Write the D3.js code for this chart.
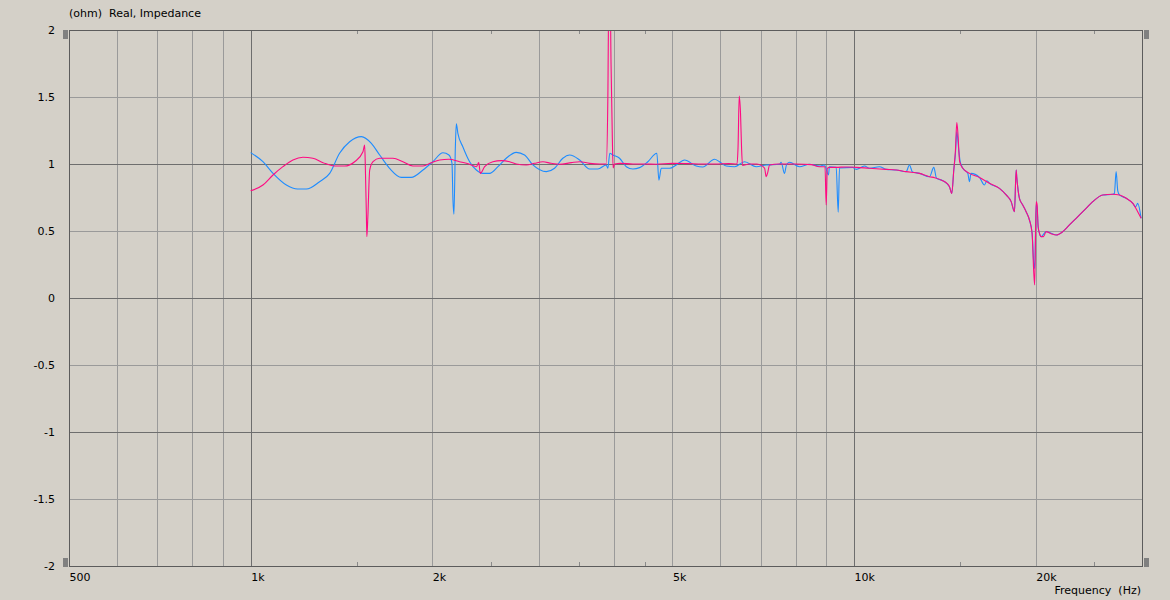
<!DOCTYPE html>
<html>
<head>
<meta charset="utf-8">
<script src="https://cdn.jsdelivr.net/npm/d3@7"></script>
<style>
  html, body { margin: 0; padding: 0; background: #D4D0C8; }
  svg { display: block; }
  text { font-family: "DejaVu Sans", sans-serif; font-size: 11px; fill: #000; }
</style>
</head>
<body>
<svg id="chart" width="1170" height="600"></svg>
<script>
// ---- data ----
const xTickValues = [500, 1000, 2000, 5000, 10000, 20000];
const xTickLabels = ["500", "1k", "2k", "5k", "10k", "20k"];
const xGridMinor = [600, 700, 800, 900, 2000, 3000, 4000, 5000, 6000, 7000, 8000, 9000, 20000];
const xGridMajor = [1000, 10000];
const xSmallTicks = [1500, 2500, 3500, 4500, 15000, 25000];
const yTickValues = [2, 1.5, 1, 0.5, 0, -0.5, -1, -1.5, -2];
const yTickLabels = ["2", "1.5", "1", "0.5", "0", "-0.5", "-1", "-1.5", "-2"];
const yGridMajor = [1, 0, -1];
const yGridMinor = [1.5, 0.5, -0.5, -1.5];

const blueFreq = [1000,1048,1089,1146,1196,1237,1301,1352,1404,1459,1526,1585,1636,1699,1777,1846,1930,2004,2083,2131,2156,2164,2172,2184,2192,2205,2247,2306,2366,2426,2489,2569,2652,2755,2844,2936,3090,3189,3291,3378,3509,3645,3762,3884,3908,3937,3982,4086,4193,4300,4411,4552,4711,4748,4791,4946,5074,5236,5474,5614,5872,5984,6139,6339,6584,6884,7152,7523,7571,7668,7727,7816,8119,8434,8762,8930,9069,9103,9339,9412,9459,9950,10080,10404,10604,11017,11304,11742,12198,12353,12496,12834,13333,13556,13693,14028,14391,14518,14629,14723,14798,14912,14991,15141,15433,15532,15622,16135,16444,16600,16761,17413,17865,18210,18440,18561,18604,18793,19033,19280,19525,19724,19847,19921,20031,20100,20184,20287,20417,20811,21615,22170,22742,23334,24238,24857,25823,26826,27000,27180,27350,27530,28246,28970,29272,29512,29900];
const blueVal = [1.085,1.017,0.93,0.843,0.813,0.813,0.868,0.93,1.08,1.166,1.204,1.154,1.067,0.968,0.90,0.90,0.955,1.017,1.084,1.067,1.005,0.731,0.625,1.129,1.30,1.229,1.129,1.017,0.955,0.93,0.93,0.98,1.043,1.087,1.067,0.993,0.943,0.968,1.043,1.067,1.03,0.963,0.963,0.993,0.968,1.08,1.067,1.043,0.98,0.963,0.973,1.017,1.08,0.88,0.968,0.968,0.993,1.03,0.985,0.978,1.035,1.017,0.985,0.98,1.017,0.98,0.993,0.998,1.013,0.93,0.995,1.013,0.98,0.998,0.985,0.993,0.918,0.98,0.975,0.64,0.97,0.975,0.96,0.985,0.968,0.98,0.96,0.955,0.943,0.993,0.94,0.93,0.905,0.975,0.895,0.875,0.83,0.78,0.955,1.08,1.24,1.10,1.017,0.968,0.93,0.868,0.93,0.90,0.843,0.875,0.856,0.818,0.769,0.719,0.644,0.955,0.90,0.744,0.694,0.644,0.582,0.483,0.26,0.22,0.70,0.68,0.532,0.483,0.458,0.495,0.47,0.495,0.545,0.595,0.669,0.719,0.769,0.774,0.78,0.943,0.80,0.769,0.744,0.706,0.68,0.706,0.595];

const pinkFreq = [1000,1048,1089,1131,1175,1221,1268,1318,1378,1431,1487,1535,1545,1549,1555,1558,1564,1575,1595,1636,1721,1788,1857,1930,1992,2057,2131,2219,2306,2366,2388,2402,2442,2520,2602,2686,2755,2862,2954,3050,3148,3250,3400,3509,3645,3786,3859,3884,3908,3923,3941,3956,3974,3987,4010,4100,4300,4500,4700,5000,5300,5600,5900,6200,6397,6423,6451,6483,6508,6533,6700,6900,7105,7152,7195,7244,7500,8000,8500,8762,8950,8990,9030,9103,9339,9700,10080,10604,11304,11742,12198,12834,13333,13600,14028,14250,14391,14518,14629,14723,14798,14860,14960,15141,15532,16135,16761,17413,17865,18210,18440,18561,18604,18793,19033,19280,19525,19724,19847,19921,20031,20100,20184,20287,20417,20600,20811,21200,21615,22170,22742,23334,24238,24857,25823,26826,27530,28246,28970,29512,29900];
const pinkVal = [0.80,0.843,0.918,0.98,1.03,1.05,1.043,1.01,0.985,0.985,1.017,1.092,1.142,0.98,0.632,0.458,0.607,0.955,1.017,1.043,1.043,1.017,0.985,0.985,1.01,1.03,1.035,1.017,0.998,0.98,1.01,0.93,0.98,1.017,1.025,1.017,1.0,0.993,1.005,1.017,1.005,0.998,1.01,1.017,1.005,1.0,1.0,1.0,1.5,2.3,2.3,1.74,1.23,0.97,1.0,1.005,1.0,1.0,0.998,1.005,1.003,1.0,1.0,1.003,1.0,1.13,1.507,1.38,1.13,0.99,1.0,1.0,0.97,0.905,0.94,0.993,1.0,1.0,0.995,0.98,0.98,0.694,0.968,0.975,0.975,0.978,0.975,0.968,0.96,0.955,0.943,0.93,0.905,0.898,0.875,0.856,0.83,0.78,0.955,1.104,1.31,1.23,1.017,0.968,0.93,0.90,0.856,0.818,0.769,0.719,0.644,0.955,0.90,0.744,0.694,0.644,0.582,0.483,0.196,0.097,0.719,0.70,0.532,0.483,0.458,0.458,0.495,0.48,0.47,0.495,0.545,0.595,0.669,0.719,0.769,0.774,0.769,0.744,0.706,0.644,0.595];

// ---- layout ----
const L = 69, R = 1142, T = 30, B = 566;
const svg = d3.select("#chart");
const x = d3.scaleLog().domain([500, 30000]).range([L, R]);
const y = d3.scaleLinear().domain([-2, 2]).range([B, T]);
const px = v => Math.round(x(v)) + 0.5;
const py = v => Math.round(y(v)) + 0.5;

svg.append("rect").attr("width", 1170).attr("height", 600).attr("fill", "#D4D0C8");

const grid = svg.append("g").attr("shape-rendering", "crispEdges");
grid.selectAll("line.vmin").data(xGridMinor).join("line")
  .attr("x1", d => px(d)).attr("x2", d => px(d)).attr("y1", T).attr("y2", B)
  .attr("stroke", "#9a9a9a");
grid.selectAll("line.hmin").data(yGridMinor).join("line")
  .attr("x1", L).attr("x2", R).attr("y1", d => py(d)).attr("y2", d => py(d))
  .attr("stroke", "#9a9a9a");
grid.selectAll("line.vmaj").data(xGridMajor).join("line")
  .attr("x1", d => px(d)).attr("x2", d => px(d)).attr("y1", T).attr("y2", B)
  .attr("stroke", "#6e6e6e");
grid.selectAll("line.hmaj").data(yGridMajor).join("line")
  .attr("x1", L).attr("x2", R).attr("y1", d => py(d)).attr("y2", d => py(d))
  .attr("stroke", "#6e6e6e");
// small ticks
grid.selectAll("line.tb").data(xSmallTicks).join("line")
  .attr("x1", d => px(d)).attr("x2", d => px(d)).attr("y1", B - 4).attr("y2", B)
  .attr("stroke", "#8a8a8a");
grid.selectAll("line.tt").data(xSmallTicks).join("line")
  .attr("x1", d => px(d)).attr("x2", d => px(d)).attr("y1", T).attr("y2", T + 4)
  .attr("stroke", "#8a8a8a");

// clip
svg.append("clipPath").attr("id", "clip").append("rect")
  .attr("x", L).attr("y", T).attr("width", R - L).attr("height", B - T);

const line = d3.line().curve(d3.curveMonotoneX).x(d => x(d[0])).y(d => y(d[1]));
const plot = svg.append("g").attr("clip-path", "url(#clip)");
plot.append("path").datum(d3.zip(blueFreq, blueVal))
  .attr("d", line).attr("fill", "none").attr("stroke", "#1E8CFF").attr("stroke-width", 1.1);
plot.append("path").datum(d3.zip(pinkFreq, pinkVal))
  .attr("d", line).attr("fill", "none").attr("stroke", "#FF0A82").attr("stroke-width", 1.1);

// frame
svg.append("rect").attr("x", L + 0.5).attr("y", T + 0.5).attr("width", R - L).attr("height", B - T)
  .attr("fill", "none").attr("stroke", "#5c5c5c").attr("shape-rendering", "crispEdges");

// corner markers
const markers = [[63, 30], [63, 558], [1144, 30], [1144, 558]];
svg.selectAll("rect.mk").data(markers).join("rect")
  .attr("x", d => d[0]).attr("y", d => d[1]).attr("width", 5).attr("height", 9)
  .attr("fill", "#808080");

// axes
const xAxis = d3.axisBottom(x).tickValues(xTickValues)
  .tickFormat((d, i) => xTickLabels[i]).tickSize(0).tickPadding(0);
const gx = svg.append("g").attr("transform", `translate(0,${B})`).call(xAxis);
gx.select(".domain").remove();
gx.selectAll("text").attr("text-anchor", "start").attr("dy", null).attr("y", 15)
  .attr("font-family", "DejaVu Sans, sans-serif").attr("font-size", 11).attr("fill", "#000");

const yAxis = d3.axisLeft(y).tickValues(yTickValues)
  .tickFormat((d, i) => yTickLabels[i]).tickSize(0).tickPadding(0);
const gy = svg.append("g").attr("transform", `translate(55,0)`).call(yAxis);
gy.select(".domain").remove();
gy.selectAll("text").attr("text-anchor", "end").attr("dy", "0.35em").attr("x", 0)
  .attr("font-family", "DejaVu Sans, sans-serif").attr("font-size", 11).attr("fill", "#000");

svg.append("text").attr("x", 69).attr("y", 17).style("white-space", "pre").text("(ohm)  Real, Impedance");
svg.append("text").attr("x", 1141).attr("y", 594).attr("text-anchor", "end")
  .style("white-space", "pre").text("Frequency  (Hz)");
</script>
</body>
</html>
